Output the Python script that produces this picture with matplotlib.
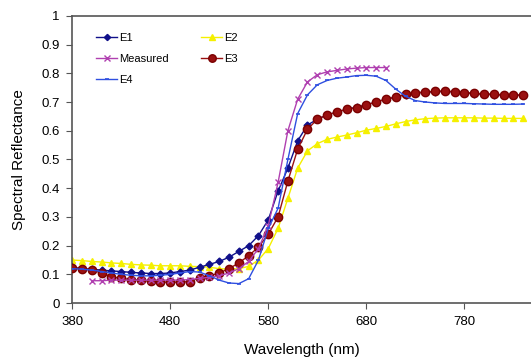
import numpy as np
import matplotlib
matplotlib.use("Agg")
from matplotlib import pyplot as plt

plt.rcParams['font.family'] = ['Liberation Sans', 'DejaVu Sans']

# wavelengths for the E curves (nm), every 10 nm
wl = list(range(380, 850, 10))
# measured only goes 400..700
wl_meas = list(range(400, 710, 10))

e1 = [0.125, 0.12, 0.118, 0.115, 0.112, 0.11, 0.107, 0.105, 0.103, 0.103,
      0.105, 0.11, 0.115, 0.125, 0.135, 0.145, 0.16, 0.18, 0.20, 0.235,
      0.29, 0.39, 0.47, 0.565, 0.62, 0.64, 0.655, 0.665, 0.675, 0.682,
      0.69, 0.70, 0.71, 0.717, 0.726, 0.731, 0.734, 0.736, 0.737, 0.735,
      0.732, 0.729, 0.727, 0.726, 0.724, 0.724, 0.723]
e2 = [0.15, 0.148, 0.145, 0.143, 0.14, 0.138, 0.135, 0.133, 0.132, 0.13,
      0.13, 0.13, 0.128, 0.127, 0.125, 0.12, 0.118, 0.12, 0.128, 0.15,
      0.19, 0.26, 0.365, 0.47, 0.53, 0.555, 0.57, 0.578, 0.585, 0.593,
      0.602, 0.608, 0.615, 0.624, 0.632, 0.638, 0.642, 0.644, 0.645, 0.645,
      0.645, 0.645, 0.644, 0.644, 0.643, 0.643, 0.643]
e3 = [0.122, 0.12, 0.115, 0.105, 0.092, 0.086, 0.082, 0.08, 0.076, 0.073,
      0.073, 0.073, 0.075, 0.088, 0.095, 0.105, 0.12, 0.14, 0.165, 0.195,
      0.24, 0.30, 0.425, 0.536, 0.605, 0.64, 0.655, 0.665, 0.675, 0.68,
      0.69, 0.70, 0.71, 0.717, 0.727, 0.732, 0.735, 0.737, 0.738, 0.736,
      0.733, 0.73, 0.728, 0.727, 0.725, 0.725, 0.724]
e4 = [0.12, 0.118, 0.115, 0.11, 0.105, 0.10, 0.097, 0.095, 0.095, 0.097,
      0.10, 0.105, 0.11, 0.108, 0.095, 0.08, 0.07, 0.068, 0.085, 0.15,
      0.26, 0.33, 0.50, 0.66, 0.725, 0.76, 0.775, 0.783, 0.787, 0.792,
      0.793, 0.79, 0.775, 0.745, 0.72, 0.705, 0.70, 0.697, 0.695, 0.695,
      0.695, 0.694, 0.693, 0.692, 0.692, 0.692, 0.693]
measured = [0.078, 0.078, 0.08, 0.08, 0.08, 0.08, 0.08, 0.08, 0.08, 0.08,
            0.082, 0.086, 0.09, 0.095, 0.105, 0.12, 0.145, 0.19, 0.27, 0.42,
            0.60, 0.71, 0.77, 0.795, 0.805, 0.81, 0.815, 0.818, 0.82, 0.82,
            0.82]

xticks = [380, 480, 580, 680, 780]
yticks = [0, 0.1, 0.2, 0.3, 0.4, 0.5, 0.6, 0.7, 0.8, 0.9, 1]


def main():
    fig = plt.figure(figsize=(5.31, 3.60), dpi=100)
    ax = fig.add_axes([0.136, 0.158, 0.864, 0.798])

    ax.plot(wl, e1, color='#10108a', lw=1.0, marker='D', ms=3.5,
            label='E1', zorder=3)
    ax.plot(wl_meas, measured, color='#b040b0', lw=1.0, marker='x', ms=4.5,
            mew=1.0, label='Measured', zorder=5)
    ax.plot(wl, e4, color='#2f4fe0', lw=1.0, marker='_', ms=3.5,
            mew=1.2, label='E4', zorder=6)
    ax.plot(wl, e2, color='#f5f000', lw=1.0, marker='^', ms=4.5,
            label='E2', zorder=2)
    ax.plot(wl, e3, color='#9a1010', lw=1.0, marker='o', ms=6,
            mec='#7a0000', label='E3', zorder=4)

    ax.set_xlim(380, 848)
    ax.set_ylim(0, 1)
    ax.set_xticks(xticks)
    ax.set_yticks(yticks)
    ax.set_yticklabels(['0', '0.1', '0.2', '0.3', '0.4', '0.5', '0.6',
                        '0.7', '0.8', '0.9', '1'])
    ax.tick_params(labelsize=9.5, direction='out', length=4, color='#555555',
                   pad=5)
    for s in ['left', 'bottom', 'top']:
        ax.spines[s].set_color('#555555')
        ax.spines[s].set_linewidth(1.2)
    ax.spines['right'].set_visible(False)

    ax.set_xlabel('Wavelength (nm)', fontsize=11, labelpad=11)
    ax.set_ylabel('Spectral Reflectance', fontsize=11, labelpad=11)

    ax.legend(ncol=2, loc='upper left', bbox_to_anchor=(0.052, 0.94),
              borderaxespad=0, borderpad=0,
              frameon=False, fontsize=8, handlelength=1.9, handletextpad=0.2,
              columnspacing=2.9, labelspacing=1.0, markerscale=0.9)

    fig.savefig('out.png', dpi=100)


if __name__ == "__main__":
    main()
